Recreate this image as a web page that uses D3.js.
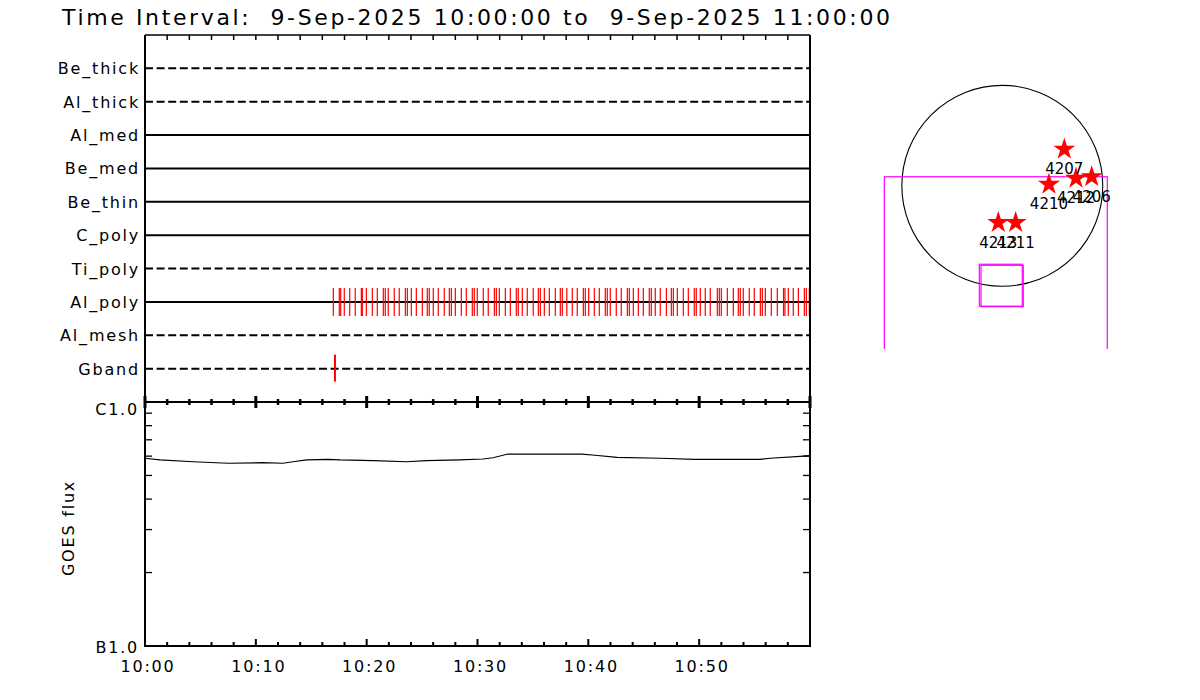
<!DOCTYPE html>
<html><head><meta charset="utf-8">
<script src="https://cdn.jsdelivr.net/npm/d3@7"></script>
<style>
body{margin:0;background:#fff}
svg{display:block;font-family:"DejaVu Sans",sans-serif}
</style></head><body>
<svg id="c" width="1200" height="700"></svg>
<script>
// ---------------- data ----------------
const titleText = "Time Interval:  9-Sep-2025 10:00:00 to  9-Sep-2025 11:00:00";
const channels = ["Be_thick","Al_thick","Al_med","Be_med","Be_thin","C_poly","Ti_poly","Al_poly","Al_mesh","Gband"];
const channelActive = [false,false,true,true,true,true,false,true,false,false];
// exposure times (minutes after 10:00)
const alPolyTimes = [16.99,17.53,17.66,17.98,18.47,18.97,19.52,19.61,19.97,20.51,20.96,21.50,21.68,21.95,22.49,22.94,
  23.49,23.67,24.03,24.48,25.02,25.47,25.65,26.01,26.46,27.00,27.46,27.64,28.00,28.54,28.99,29.53,29.71,29.98,
  30.52,30.97,31.52,31.70,31.97,32.51,32.96,33.50,33.68,34.04,34.49,35.03,35.49,35.67,36.03,36.48,37.02,37.47,
  37.65,38.06,38.55,39.00,39.55,39.73,40.03,40.54,40.99,41.53,41.71,41.98,42.52,42.97,43.52,43.70,44.06,44.51,
  44.96,45.50,45.68,46.04,46.49,47.04,47.49,47.67,48.03,48.57,49.02,49.56,49.74,50.10,50.55,51.00,51.64,51.82,
  52.00,52.54,53.08,53.53,53.71,53.98,54.52,54.97,55.52,55.70,55.97,56.51,57.05,57.61,57.74,58.04,58.49,58.95,
  59.49,59.67,59.94];
const gbandTimes = [17.14];
const goesTimes = [0,1.35,4.33,7.5,10.56,12.45,13.35,14.6,16.5,17.6,20.6,23.6,25.4,28.4,30.5,31.4,32.75,39.4,40.6,42.6,46.5,49.6,55.5,56.4,59.1,60];
const goesFlux  = [5.88e-7,5.79e-7,5.69e-7,5.61e-7,5.64e-7,5.61e-7,5.69e-7,5.79e-7,5.82e-7,5.79e-7,5.75e-7,5.69e-7,5.75e-7,5.79e-7,5.84e-7,5.91e-7,6.12e-7,6.12e-7,6.05e-7,5.93e-7,5.88e-7,5.82e-7,5.82e-7,5.88e-7,5.99e-7,6.03e-7];
const goesTickValues = [1e-7,1e-6];
const goesTickLabels = ["B1.0","C1.0"];
const timeTickLabels = ["10:00","10:10","10:20","10:30","10:40","10:50"];
// active regions (arcsec from disk centre)
const arNumbers = ["4207","4210","4212","4206","4213","4211"];
const arX = [589,443,700,849,-38,127];
const arY = [347,14,71,86,-350,-350];
const solarRadius = 954;
const fovX = [-1120,997], fovY = [86,-2200];
const boxAX = [-218,190], boxAY = [-745,-1143];
const boxBX = [-202,199], boxBY = [-755,-1148];

// ---------------- drawing ----------------
const svg = d3.select("#c");
const L=145, R=810, T1=35, B1=402, B2=646;
const t0 = Date.UTC(2025,8,9,10,0,0);
const toDate = m => new Date(t0 + m*60000);
const x = d3.scaleUtc().domain([toDate(0),toDate(60)]).range([L,R]);
const yRow = d3.scaleLinear().domain([0,11]).range([T1,B1]);
const yG = d3.scaleLog().domain([1e-7,1e-6]).range([B2,B1]);

// title
svg.append("text").attr("x",62).attr("y",25).attr("font-size",22)
  .attr("textLength",828).attr("lengthAdjust","spacing")
  .style("white-space","pre").text(titleText);

// channel rows
channels.forEach((c,i)=>{
  const yy = yRow(i+1);
  svg.append("line").attr("x1",L).attr("x2",R).attr("y1",yy).attr("y2",yy)
    .attr("stroke","#000").attr("stroke-width",2)
    .attr("stroke-dasharray",channelActive[i]?null:"8,3.6");
  svg.append("text").attr("x",140).attr("y",yy+6).attr("text-anchor","end")
    .attr("font-size",16).attr("letter-spacing",1.8).text(c);
});
const yAl = yRow(channels.indexOf("Al_poly")+1);
svg.append("g").selectAll("line").data(alPolyTimes).join("line")
  .attr("x1",d=>x(toDate(d))).attr("x2",d=>x(toDate(d)))
  .attr("y1",yAl-14).attr("y2",yAl+14).attr("stroke","#ff0000").attr("stroke-width",1.2);
const yGb = yRow(channels.indexOf("Gband")+1);
svg.append("g").selectAll("line").data(gbandTimes).join("line")
  .attr("x1",d=>x(toDate(d))).attr("x2",d=>x(toDate(d)))
  .attr("y1",yGb-14).attr("y2",yGb+13).attr("stroke","#ff0000").attr("stroke-width",2);

// frame lines
const minor = d3.range(0,61,2), major = d3.range(0,61,10);
svg.append("line").attr("x1",L).attr("x2",R).attr("y1",T1).attr("y2",T1).attr("stroke","#000").attr("stroke-width",1.5);
svg.append("g").selectAll("line").data(minor).join("line")
  .attr("x1",d=>x(toDate(d))).attr("x2",d=>x(toDate(d))).attr("y1",T1).attr("y2",T1+5)
  .attr("stroke","#000").attr("stroke-width",1.5);
[L,R].forEach(xx=>svg.append("line").attr("x1",xx).attr("x2",xx).attr("y1",T1).attr("y2",B2).attr("stroke","#000").attr("stroke-width",2));
[B1,B2].forEach(yy=>svg.append("line").attr("x1",L-1).attr("x2",R+1).attr("y1",yy).attr("y2",yy).attr("stroke","#000").attr("stroke-width",2));
// ticks on GOES top
svg.append("g").selectAll("line").data(minor).join("line")
  .attr("x1",d=>x(toDate(d))).attr("x2",d=>x(toDate(d)))
  .attr("y1",d=>d%10===0?B1-6:B1-3).attr("y2",d=>d%10===0?B1+6:B1+3)
  .attr("stroke","#000").attr("stroke-width",d=>d%10===0?3:2.5);
// ticks on GOES bottom
svg.append("g").selectAll("line").data(minor).join("line")
  .attr("x1",d=>x(toDate(d))).attr("x2",d=>x(toDate(d)))
  .attr("y1",B2).attr("y2",d=>d%10===0?B2-7:B2-4)
  .attr("stroke","#000").attr("stroke-width",2);
svg.append("g").selectAll("text").data(major.slice(0,6)).join("text")
  .attr("x",d=>x(toDate(d))+3).attr("y",672).attr("text-anchor","middle")
  .attr("font-size",16).attr("letter-spacing",1.8).text((d,i)=>timeTickLabels[i]);

// GOES log minor ticks
const logMinor = d3.range(2,10).map(k=>k*1e-7);
svg.append("g").selectAll("line").data(logMinor).join("line")
  .attr("x1",L).attr("x2",L+7).attr("y1",d=>yG(d)).attr("y2",d=>yG(d)).attr("stroke","#000").attr("stroke-width",1.3);
svg.append("g").selectAll("line").data(logMinor).join("line")
  .attr("x1",R-7).attr("x2",R).attr("y1",d=>yG(d)).attr("y2",d=>yG(d)).attr("stroke","#000").attr("stroke-width",1.3);
svg.append("text").attr("x",139).attr("y",yG(goesTickValues[1])+13).attr("text-anchor","end")
  .attr("font-size",16).attr("letter-spacing",1.8).text(goesTickLabels[1]);
svg.append("text").attr("x",139).attr("y",yG(goesTickValues[0])+7).attr("text-anchor","end")
  .attr("font-size",16).attr("letter-spacing",1.8).text(goesTickLabels[0]);
svg.append("text").attr("transform","translate(74,528) rotate(-90)").attr("text-anchor","middle")
  .attr("font-size",16).attr("letter-spacing",1.8).text("GOES flux");

// GOES curve
const goes = goesTimes.map((t,i)=>({t,f:goesFlux[i]}));
svg.append("path").datum(goes)
  .attr("d",d3.line().x(d=>x(toDate(d.t))).y(d=>yG(d.f)))
  .attr("fill","none").attr("stroke","#000").attr("stroke-width",1.2);

// ---------------- solar disk panel ----------------
const cx=1002.3, cy=185.8, k=0.1053;
const sx = d3.scaleLinear().domain([-1000,1000]).range([cx-1000*k,cx+1000*k]);
const sy = d3.scaleLinear().domain([-1000,1000]).range([cy+1000*k,cy-1000*k]);
svg.append("clipPath").attr("id","sunclip").append("rect").attr("x",850).attr("y",20).attr("width",300).attr("height",329);
const sun = svg.append("g").attr("clip-path","url(#sunclip)");
sun.append("circle").attr("cx",sx(0)).attr("cy",sy(0)).attr("r",sx(solarRadius)-sx(0))
  .attr("fill","none").attr("stroke","#000").attr("stroke-width",1.1);
function rectPath(xs,ys){
  return sun.append("rect").attr("x",sx(xs[0])).attr("y",sy(ys[0]))
    .attr("width",sx(xs[1])-sx(xs[0])).attr("height",sy(ys[1])-sy(ys[0]))
    .attr("fill","none").attr("stroke","#ff00ff").attr("stroke-width",1.2);
}
rectPath(fovX,fovY);
rectPath(boxAX,boxAY);
rectPath(boxBX,boxBY);
const star = d3.symbol().type(d3.symbolStar).size(150);
arNumbers.forEach((n,i)=>{
  sun.append("path").attr("d",star()).attr("transform",`translate(${sx(arX[i])},${sy(arY[i])})`).attr("fill","#ff0000");
});
arNumbers.forEach((n,i)=>{
  sun.append("text").attr("x",sx(arX[i])).attr("y",sy(arY[i])+25).attr("text-anchor","middle")
    .attr("font-size",15).text(n);
});
</script>
</body></html>
